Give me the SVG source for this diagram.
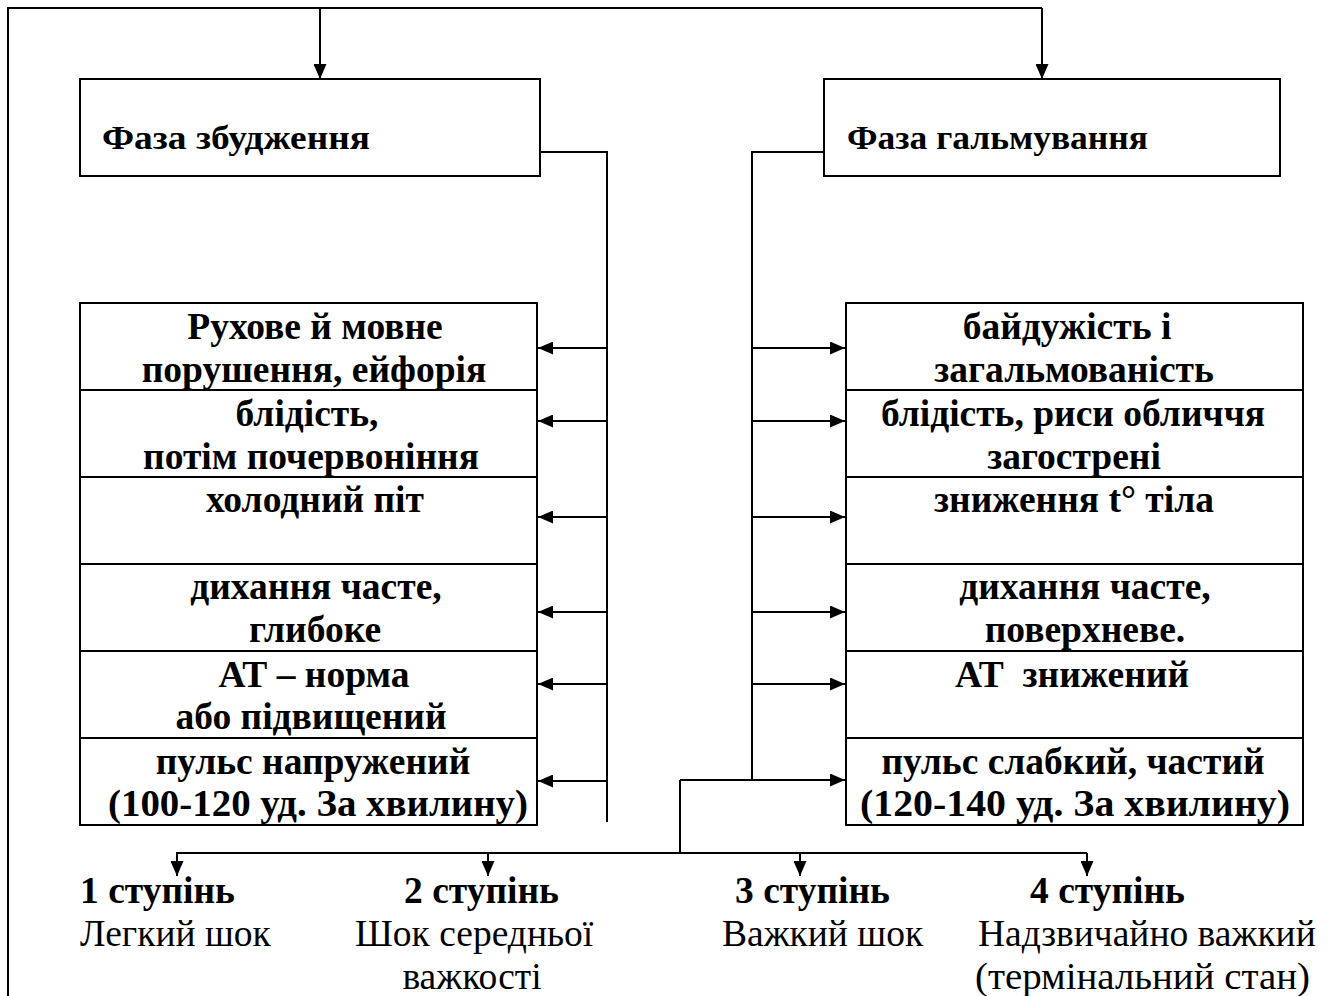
<svg xmlns="http://www.w3.org/2000/svg" width="1329" height="996" viewBox="0 0 1329 996">
<defs>
<marker id="ah" markerWidth="15" markerHeight="13" refX="15" refY="6.5" orient="auto" markerUnits="userSpaceOnUse"><path d="M0,0 L15,6.5 L0,13 z" fill="#000"/></marker>
<style>
.box{fill:#fff;stroke:#000;stroke-width:2}
.ln{fill:none;stroke:#000;stroke-width:2}
.ar{fill:none;stroke:#000;stroke-width:2;marker-end:url(#ah)}
.t{font-family:"Liberation Serif","Times New Roman",serif;font-weight:bold;font-size:37.5px;text-anchor:middle;fill:#000}
.ph{font-family:"Liberation Serif","Times New Roman",serif;font-weight:bold;font-size:34px;fill:#000}
.sb{font-family:"Liberation Serif","Times New Roman",serif;font-weight:bold;font-size:37.5px;fill:#000}
.sr{font-family:"Liberation Serif","Times New Roman",serif;font-size:37.5px;fill:#000}
</style>
</defs>
<rect width="1329" height="996" fill="#fff"/>
<g id="connectors">
<polyline class="ln" points="8,996 8,8 1042,8"/>
<line class="ar" x1="1042" y1="8" x2="1042" y2="79"/>
<line class="ar" x1="320" y1="8" x2="320" y2="79"/>
<polyline class="ln" points="540,152 607,152 607,822"/>
<line class="ar" x1="607" y1="348" x2="538" y2="348"/>
<line class="ar" x1="607" y1="421" x2="538" y2="421"/>
<line class="ar" x1="607" y1="517" x2="538" y2="517"/>
<line class="ar" x1="607" y1="612" x2="538" y2="612"/>
<line class="ar" x1="607" y1="684" x2="538" y2="684"/>
<line class="ar" x1="607" y1="781" x2="538" y2="781"/>
<polyline class="ln" points="824,152 752,152 752,780"/>
<line class="ar" x1="752" y1="348" x2="845" y2="348"/>
<line class="ar" x1="752" y1="421" x2="845" y2="421"/>
<line class="ar" x1="752" y1="517" x2="845" y2="517"/>
<line class="ar" x1="752" y1="612" x2="845" y2="612"/>
<line class="ar" x1="752" y1="684" x2="845" y2="684"/>
<line class="ar" x1="680" y1="780" x2="845" y2="780"/>
<polyline class="ln" points="680,780 680,853"/>
<polyline class="ln" points="177,875 177,853 1087,853"/>
<line class="ar" x1="177" y1="853" x2="177" y2="876"/>
<line class="ar" x1="488" y1="853" x2="488" y2="876"/>
<line class="ar" x1="800" y1="853" x2="800" y2="876"/>
<line class="ar" x1="1087" y1="853" x2="1087" y2="876"/>
</g>
<g id="phase-excitation">
<rect class="box" x="80" y="79" width="460" height="97"/>
<text class="ph" x="102" y="149" textLength="268" lengthAdjust="spacingAndGlyphs">Фаза збудження</text>
</g>
<g id="phase-inhibition">
<rect class="box" x="824" y="79" width="456" height="97"/>
<text class="ph" x="847" y="149" textLength="301" lengthAdjust="spacingAndGlyphs">Фаза гальмування</text>
</g>
<g id="left-table">
<rect class="box" x="80" y="303" width="457" height="87"/>
<rect class="box" x="80" y="390" width="457" height="87"/>
<rect class="box" x="80" y="477" width="457" height="87"/>
<rect class="box" x="80" y="564" width="457" height="87"/>
<rect class="box" x="80" y="651" width="457" height="87"/>
<rect class="box" x="80" y="738" width="457" height="87"/>
<text class="t" x="315" y="339">Рухове й мовне</text>
<text class="t" x="314" y="382">порушення, ейфорія</text>
<text class="t" x="307" y="426">блідість,</text>
<text class="t" x="311" y="469">потім почервоніння</text>
<text class="t" x="315" y="512">холодний піт</text>
<text class="t" x="316" y="599">дихання часте,</text>
<text class="t" x="315" y="642">глибоке</text>
<text class="t" x="314" y="687">АТ – норма</text>
<text class="t" x="311" y="729">або підвищений</text>
<text class="t" x="313" y="774">пульс напружений</text>
<text class="t" x="318" y="816" textLength="420" lengthAdjust="spacingAndGlyphs">(100-120 уд. За хвилину)</text>
</g>
<g id="right-table">
<rect class="box" x="846" y="303" width="457" height="87"/>
<rect class="box" x="846" y="390" width="457" height="87"/>
<rect class="box" x="846" y="477" width="457" height="87"/>
<rect class="box" x="846" y="564" width="457" height="87"/>
<rect class="box" x="846" y="651" width="457" height="87"/>
<rect class="box" x="846" y="738" width="457" height="87"/>
<text class="t" x="1067" y="339">байдужість і</text>
<text class="t" x="1074" y="382">загальмованість</text>
<text class="t" x="1073" y="426">блідість, риси обличчя</text>
<text class="t" x="1074" y="469">загострені</text>
<text class="t" x="1074" y="512">зниження t° тіла</text>
<text class="t" x="1085" y="599">дихання часте,</text>
<text class="t" x="1085" y="642">поверхневе.</text>
<text class="t" x="1072" y="687" xml:space="preserve">АТ  знижений</text>
<text class="t" x="1073" y="774">пульс слабкий, частий</text>
<text class="t" x="1075" y="816" textLength="430" lengthAdjust="spacingAndGlyphs">(120-140 уд. За хвилину)</text>
</g>
<g id="degree-1">
<text class="sb" x="80" y="903">1 ступінь</text>
<text class="sr" x="80" y="946">Легкий шок</text>
</g>
<g id="degree-2">
<text class="sb" x="404" y="903">2 ступінь</text>
<text class="sr" x="355" y="946">Шок середньої</text>
<text class="sr" x="472" y="989" text-anchor="middle">важкості</text>
</g>
<g id="degree-3">
<text class="sb" x="735" y="903">3 ступінь</text>
<text class="sr" x="722" y="946">Важкий шок</text>
</g>
<g id="degree-4">
<text class="sb" x="1030" y="903">4 ступінь</text>
<text class="sr" x="978" y="946">Надзвичайно важкий</text>
<text class="sr" x="975" y="989" textLength="335" lengthAdjust="spacingAndGlyphs">(термінальний стан)</text>
</g>
</svg>
